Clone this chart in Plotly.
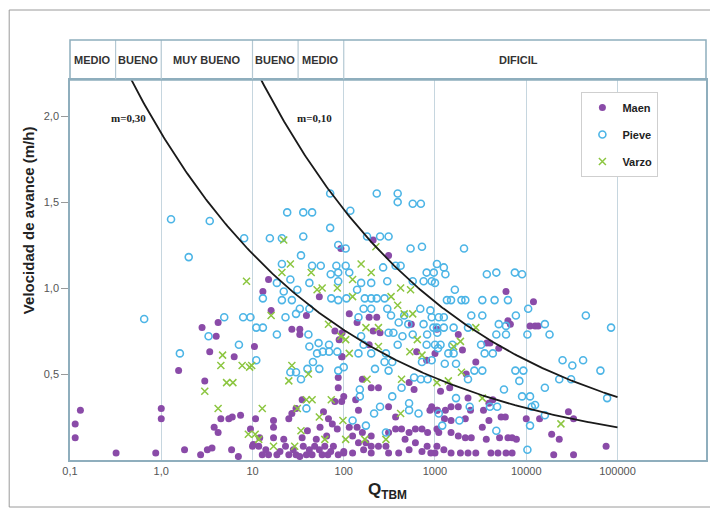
import numpy as np
import plotly.graph_objects as go

# ---------------- data ----------------
maen_q = [0.114, 0.114, 0.13, 0.32, 0.87, 1.0, 1.0, 1.55, 1.8,
          2.8, 4.2, 4.0, 3.4, 6.3, 10.5, 3.0, 4.5, 5.5, 6.0, 7.4, 10.8, 3.8, 4.2, 9.5, 2.7, 3.2, 3.6, 5.9, 7.0, 10.2,
          93, 15, 13, 54, 16, 39, 27, 33, 33, 80, 89, 95, 87, 87, 35, 80, 30, 95, 27, 68, 17, 25, 17, 55, 85, 12, 17, 35,
          10, 11.7, 12.8, 15, 18.5, 23, 25, 30, 36, 39, 45, 54, 62, 67, 77, 87, 100,
          20, 28, 33, 42, 48, 58, 72, 14, 22, 50, 65, 40, 75, 60,
          210, 310, 115, 190, 230, 140, 210, 250, 96, 550, 1050, 190, 630, 810, 96, 160, 200, 240, 520, 590, 135, 145,
          310, 370, 880, 1060, 100,
          115, 140, 160, 125, 145, 175, 200, 200, 240, 310, 370, 430, 520, 610, 720, 830, 1050, 470, 610, 100, 125, 165,
          200, 310, 290, 400, 520, 720, 1000, 820,
          6000, 12000, 6300, 6700, 11000, 12500, 1800, 1000, 2000, 3700, 4000, 2800, 5000, 2200, 1150, 1450, 2300, 4300,
          3900, 920, 1050, 1300, 1500, 1800, 2450, 3400, 5300, 5900, 10000, 1270, 1500, 2150, 3900, 3300, 1500, 1800,
          2150, 2500, 3650, 5100, 6300, 7000, 7800, 1050, 1250, 1500, 1900, 2300, 2800, 4100, 4900, 6000, 7000, 900, 1100,
          13500, 29000, 33000, 14000, 19000, 23000, 20000, 33000, 75000]
maen_v = [0.13, 0.21, 0.29, 0.04, 0.04, 0.30, 0.24, 0.52, 0.06,
          0.77, 0.80, 0.72, 0.63, 0.60, 0.66, 0.46, 0.24, 0.24, 0.25, 0.26, 0.24, 0.19, 0.16, 0.18, 0.03, 0.06, 0.07, 0.06, 0.02, 0.09,
          1.23, 1.05, 0.98, 0.95, 0.87, 0.84, 0.76, 0.76, 0.73, 0.75, 0.70, 0.60, 0.48, 0.42, 0.35, 0.34, 0.30, 0.34, 0.27, 0.24, 0.23, 0.24, 0.19, 0.19, 0.18, 0.13, 0.13, 0.13,
          0.08, 0.08, 0.03, 0.03, 0.03, 0.08, 0.03, 0.03, 0.08, 0.03, 0.03, 0.06, 0.08, 0.03, 0.08, 0.03, 0.05,
          0.05, 0.06, 0.02, 0.06, 0.08, 0.03, 0.05, 0.06, 0.12, 0.12, 0.14, 0.17, 0.21, 0.28,
          1.28, 1.19, 0.85, 0.83, 0.83, 0.80, 0.75, 0.74, 0.74, 0.79, 0.76, 0.67, 0.63, 0.58, 0.60, 0.47, 0.42, 0.42, 0.45, 0.41, 0.35, 0.29,
          0.31, 0.25, 0.29, 0.29, 0.37,
          0.19, 0.19, 0.16, 0.14, 0.10, 0.10, 0.14, 0.08, 0.08, 0.16, 0.18, 0.18, 0.16, 0.18, 0.18, 0.16, 0.18, 0.12, 0.10, 0.04, 0.04, 0.06,
          0.04, 0.04, 0.08, 0.04, 0.06, 0.05, 0.04, 0.08,
          0.98, 0.92, 0.81, 0.79, 0.78, 0.78, 0.73, 0.62, 0.64, 0.68, 0.68, 0.57, 0.65, 0.50, 0.40, 0.42, 0.36, 0.35,
          0.33, 0.31, 0.29, 0.29, 0.31, 0.31, 0.29, 0.29, 0.25, 0.25, 0.24, 0.24, 0.23, 0.24, 0.23, 0.19, 0.16, 0.14,
          0.13, 0.13, 0.12, 0.13, 0.13, 0.13, 0.12, 0.08, 0.06, 0.04, 0.04, 0.04, 0.04, 0.04, 0.04, 0.04, 0.04, 0.04, 0.16,
          0.78, 0.28, 0.24, 0.24, 0.15, 0.12, 0.03, 0.03, 0.08]

pieve_q = [0.65, 1.28, 2.0, 1.6,
           3.4, 8.1, 4.9, 7.9, 9.5, 11, 3.3, 7.1, 11,
           71, 24, 36, 45, 71, 15.5, 21, 36, 87, 105, 34, 21, 45, 56, 83, 72, 87, 26, 18.5, 42, 87, 31, 22, 13, 21, 27,
           73, 87, 107, 33, 30, 42, 23, 13, 18.5, 41, 53, 69, 42, 85, 51, 59, 69, 46, 54, 87, 26, 30, 40, 34, 39,
           230, 390, 390, 570, 700, 118, 180, 250, 310, 540, 720, 370, 420, 105, 270, 810, 970, 155, 200, 300, 570, 750,
           920, 140, 170, 200, 230, 280, 165, 200, 300, 690, 890, 145, 330, 460, 400, 510, 750, 960, 310, 350, 440, 570,
           820, 1060, 155, 165, 390, 200, 145, 290, 810, 1080, 280, 340, 720, 220, 310, 590, 700, 830, 430, 150, 150, 340,
           520, 520, 660, 250, 215, 175, 290, 125, 100, 115,
           2080, 1050, 1250, 1300, 1000, 3700, 4700, 7500, 9000, 1650, 1350, 1500, 1950, 2150, 3300, 4500, 6300, 10500,
           2500, 3300, 7700, 920, 1100, 1250, 1050, 1250, 1600, 5000, 6000, 2300, 4700, 6000, 10300, 1000, 1150, 1550,
           3200, 1400, 1600, 3500, 4300, 920, 1280, 1700, 2700, 3300, 7600, 9300, 8400, 2300, 5700, 1700, 2400, 4000,
           4800, 9000, 11000, 11500, 1100, 1850, 11000, 4700, 1200, 10300,
           45000, 85000, 16000, 18000, 25000, 32000, 42000, 65000, 23000, 31000, 16000, 77000, 12500, 16000]
pieve_v = [0.82, 1.40, 1.18, 0.62,
           1.39, 1.29, 0.83, 0.83, 0.83, 0.77, 0.72, 0.67, 0.58,
           1.55, 1.44, 1.44, 1.44, 1.35, 1.29, 1.29, 1.30, 1.25, 1.23, 1.19, 1.14, 1.13, 1.13, 1.13, 1.08, 1.09, 1.05, 1.03, 1.03, 1.04, 0.99, 0.98, 0.94, 0.93, 0.93,
           0.94, 0.93, 0.94, 0.88, 0.85, 0.88, 0.83, 0.77, 0.73, 0.73, 0.68, 0.67, 0.66, 0.63, 0.62, 0.63, 0.63, 0.57, 0.53, 0.52, 0.51, 0.51, 0.53, 0.47, 0.30,
           1.55, 1.55, 1.50, 1.49, 1.49, 1.45, 1.30, 1.30, 1.30, 1.23, 1.24, 1.13, 1.13, 1.13, 1.12, 1.09, 1.09, 1.03, 1.03, 1.04, 1.04, 1.04,
           1.04, 0.99, 0.94, 0.94, 0.94, 0.94, 0.88, 0.88, 0.88, 0.88, 0.87, 0.83, 0.84, 0.84, 0.80, 0.79, 0.79, 0.77, 0.74, 0.74, 0.72, 0.73,
           0.73, 0.74, 0.72, 0.67, 0.67, 0.62, 0.62, 0.62, 0.67, 0.65, 0.57, 0.57, 0.57, 0.53, 0.52, 0.48, 0.47, 0.47, 0.42, 0.41, 0.37, 0.37,
           0.33, 0.29, 0.27, 0.31, 0.27, 0.20, 0.16, 0.23, 0.54, 1.09,
           1.23, 1.14, 1.12, 1.08, 1.03, 1.08, 1.09, 1.09, 1.08, 0.99, 0.93, 0.93, 0.93, 0.93, 0.93, 0.93, 0.93, 0.88,
           0.84, 0.84, 0.84, 0.83, 0.83, 0.83, 0.77, 0.77, 0.77, 0.79, 0.78, 0.77, 0.73, 0.73, 0.73, 0.67, 0.67, 0.67,
           0.67, 0.62, 0.62, 0.62, 0.62, 0.58, 0.56, 0.56, 0.52, 0.52, 0.52, 0.52, 0.46, 0.47, 0.41, 0.36, 0.31, 0.31,
           0.31, 0.37, 0.37, 0.31, 0.27, 0.23, 0.20, 0.17, 0.20, 0.06,
           0.84, 0.77, 0.79, 0.73, 0.58, 0.55, 0.58, 0.52, 0.47, 0.47, 0.42, 0.36, 0.32, 0.26]

varzo_q = [8.6, 4.7, 4.5, 7.7, 9.8, 5.2, 6.1, 3.0, 4.2, 9.0, 10.7,
           22, 26, 21, 44, 51, 58, 85, 16, 68, 93, 9.3, 27, 25, 41, 12.8, 39, 45, 73, 31, 54, 34, 11.7, 17, 29, 62,
           225, 155, 200, 125, 420, 540, 125, 330, 390, 460, 570, 175, 240, 105, 640, 115, 240, 530, 720, 180, 430,
           420, 98, 290, 105, 170,
           2800, 1900, 1600, 1950, 1050, 1400, 3300,
           24000]
varzo_v = [1.04, 0.61, 0.55, 0.55, 0.55, 0.45, 0.45, 0.40, 0.30, 0.15, 0.15,
           1.28, 1.14, 1.09, 1.09, 0.99, 1.00, 1.00, 0.84, 0.79, 0.72, 0.54, 0.55, 0.46, 0.50, 0.30, 0.35, 0.35, 0.35, 0.30, 0.25, 0.17, 0.12, 0.08, 0.08, 0.12,
           1.24, 1.14, 1.09, 1.05, 1.00, 0.99, 0.95, 0.95, 0.90, 0.85, 0.85, 0.77, 0.77, 0.70, 0.70, 0.62, 0.66, 0.63, 0.61, 0.47, 0.47,
           0.27, 0.23, 0.12, 0.12, 0.12,
           0.77, 0.69, 0.66, 0.51, 0.45, 0.46, 0.36,
           0.21]

# reference curves  v = a * Q^(-b)
curve_labels = ["m=0,30", "m=0,10"]
curve_coef = [1.9, 3.66]
curve_exp = 0.2
curve_q_end = 100000
curve_label_q = [0.44, 47.6]
curve_label_v = [1.99, 1.99]

# header classes
header_bounds = [0.1, 0.316, 1.0, 10.0, 31.6, 100.0]
header_labels = ["MEDIO", "BUENO", "MUY BUENO", "BUENO", "MEDIO", "DIFICIL"]

x_tickvals = [0.1, 1, 10, 100, 1000, 10000, 100000]
x_ticktext = ["0,1", "1,0", "10", "100", "1000", "10000", "100000"]
y_tickvals = [0.5, 1.0, 1.5, 2.0]
y_ticktext = ["0,5", "1,0", "1,5", "2,0"]

# ---------------- figure ----------------
# page body has an 8px margin -> figure is 8px smaller and coordinates shifted
OFF = 8
W, H = 718 - OFF, 516 - OFF
PL, PR, PT, PB = 70, 708, 80, 460          # plot area in reference pixels
ML, MR, MT, MB = PL - OFF, W - (PR - OFF), PT - OFF, H - (PB - OFF)
XR = [-1, 5.97]
YR = [0, 2.21]
pw, ph = PR - PL, PB - PT

def px2paper_x(px):
    return (px - PL) / pw

def px2paper_y(py):
    return (PB - py) / ph

def logq2paper(q):
    return (np.log10(q) - XR[0]) / (XR[1] - XR[0])

FONT = "Arial, Liberation Sans, sans-serif"
AXC = "#8FAEBD"
GRIDC = "#C6D6DF"
DIVC = "#B4C8D3"
PURPLE = "#8A4BA8"
BLUE = "#4DB5E6"
GREEN = "#8CC640"

fig = go.Figure()

fig.add_trace(go.Scatter(x=maen_q, y=maen_v, mode="markers", name="Maen",
                         legendgroup="a",
                         marker=dict(symbol="circle", size=7, color=PURPLE, line=dict(width=0))))
fig.add_trace(go.Scatter(x=pieve_q, y=pieve_v, mode="markers", name="Pieve",
                         legendgroup="b",
                         marker=dict(symbol="circle-open", size=7, color=BLUE, line=dict(width=1.6, color=BLUE))))
fig.add_trace(go.Scatter(x=varzo_q, y=varzo_v, mode="markers", name="Varzo",
                         legendgroup="c",
                         marker=dict(symbol="x-thin-open", size=7, color=GREEN, line=dict(width=1.5, color=GREEN))))

for a in curve_coef:
    qq = np.logspace(-1, np.log10(curve_q_end), 300)
    vv = a * qq ** (-curve_exp)
    fig.add_trace(go.Scatter(x=qq, y=vv, mode="lines", showlegend=False,
                             line=dict(color="#1a1a1a", width=1.8), hoverinfo="skip"))

shapes = []
top_y = px2paper_y(40)
for b in header_bounds[1:]:
    xp = logq2paper(b)
    shapes.append(dict(type="line", xref="paper", yref="paper", x0=xp, x1=xp, y0=1, y1=top_y,
                       line=dict(color=DIVC, width=1.2)))
shapes.append(dict(type="rect", xref="paper", yref="paper", x0=0, x1=1, y0=1, y1=top_y,
                   line=dict(color=AXC, width=1.5), fillcolor="rgba(0,0,0,0)"))
# outer figure border
shapes.append(dict(type="rect", xref="paper", yref="paper",
                   x0=px2paper_x(9), x1=px2paper_x(716), y0=px2paper_y(507), y1=px2paper_y(10),
                   line=dict(color="#9a9a9a", width=1), fillcolor="rgba(0,0,0,0)", layer="below"))

annotations = []
bounds_ext = header_bounds + [10 ** XR[1]]
for i, lab in enumerate(header_labels):
    c = (logq2paper(bounds_ext[i]) + logq2paper(bounds_ext[i + 1])) / 2
    if lab == "DIFICIL":
        c -= 0.01
    annotations.append(dict(x=c, y=px2paper_y(60), xref="paper", yref="paper", text="<b>%s</b>" % lab,
                            xanchor="center", yanchor="middle",
                            showarrow=False, font=dict(family=FONT, size=11, color="#333333")))
for lab, q, v in zip(curve_labels, curve_label_q, curve_label_v):
    annotations.append(dict(x=np.log10(q), y=v, xref="x", yref="y", text="<b>%s</b>" % lab,
                            xanchor="center", yanchor="middle",
                            showarrow=False, font=dict(family="Liberation Serif, Times New Roman, serif",
                                                       size=11, color="#222222")))
annotations.append(dict(x=px2paper_x(28), y=px2paper_y(220), xref="paper", yref="paper",
                        text="<b>Velocidad de avance (m/h)</b>", textangle=-90, showarrow=False,
                        xanchor="center", yanchor="middle",
                        font=dict(family=FONT, size=15, color="#222222")))
annotations.append(dict(x=px2paper_x(388), y=px2paper_y(491), xref="paper", yref="paper",
                        text="<b>Q<sub>TBM</sub></b>", showarrow=False,
                        xanchor="center", yanchor="middle",
                        font=dict(family=FONT, size=17, color="#222222")))

fig.update_layout(
    width=W, height=H,
    margin=dict(l=ML, r=MR, t=MT, b=MB),
    paper_bgcolor="white", plot_bgcolor="white",
    font=dict(family=FONT, color="#555555"),
    shapes=shapes, annotations=annotations,
    legend=dict(x=px2paper_x(583), y=px2paper_y(92), xanchor="left", yanchor="top",
                bgcolor="white", bordercolor="#cfcfcf", borderwidth=1,
                font=dict(family=FONT, size=11, color="#222222", weight="bold"),
                traceorder="grouped", tracegroupgap=8, itemwidth=30),
    showlegend=True,
)
fig.update_xaxes(type="log", range=XR, tickvals=x_tickvals, ticktext=x_ticktext,
                 showgrid=True, gridcolor=GRIDC, gridwidth=1.2, zeroline=False,
                 showline=True, linecolor=AXC, linewidth=1.5, mirror=True, ticks="",
                 tickfont=dict(family=FONT, size=11, color="#555555"))
fig.update_yaxes(range=YR, tickvals=y_tickvals, ticktext=y_ticktext,
                 showgrid=False, zeroline=False,
                 showline=True, linecolor=AXC, linewidth=1.5, mirror=True,
                 ticks="outside", ticklen=7, tickcolor="#9a9a9a", tickwidth=1,
                 tickfont=dict(family=FONT, size=11, color="#555555"))

fig.write_html("out.html")
